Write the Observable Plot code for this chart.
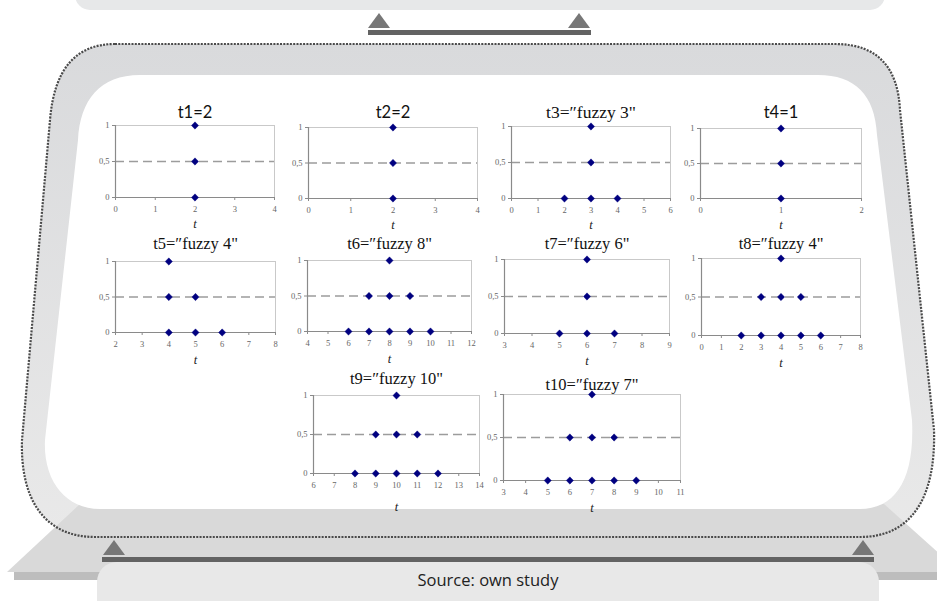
<!DOCTYPE html>
<html>
<head>
<meta charset="utf-8">
<script src="https://cdn.jsdelivr.net/npm/d3@7"></script>
<script src="https://cdn.jsdelivr.net/npm/@observablehq/plot@0.6"></script>
<style>
  html, body { margin: 0; padding: 0; background: #fff; }
  #stage { position: relative; width: 937px; height: 601px; overflow: hidden; background: #fff; }
  #decor { position: absolute; left: 0; top: 0; }
  .panel { position: absolute; }
  .panel text { font-family: "Liberation Serif", "Times New Roman", "DejaVu Serif", serif; }
  .panel text.sans, .panel g.sans text { font-family: Lato, "Open Sans", sans-serif; }
  #source { position: absolute; left: 97px; width: 782px; top: 568px; text-align: center;
            font-family: "Open Sans", sans-serif; font-size: 16.5px; color: #222; }
</style>
</head>
<body>
<div id="stage">
  <svg id="decor" width="937" height="601" viewBox="0 0 937 601">
    <defs>
      <linearGradient id="g" x1="0" y1="0" x2="0" y2="1">
        <stop offset="0" stop-color="#d9dadc"/>
        <stop offset="1" stop-color="#e9e9e9"/>
      </linearGradient>
    </defs>
    <rect x="75" y="-25" width="810" height="35" rx="15" fill="#e7e8e9"/>
    <polygon points="368,28 379,13 390,28" fill="#777"/>
    <polygon points="568,28 579,13 590,28" fill="#777"/>
    <rect x="368" y="30" width="223" height="5" fill="#636363"/>
    <path d="M 115 44 L 835 44 C 880 44, 898 70, 900 110 L 934 430 C 936 500, 910 537, 860 537 L 95 537 C 45 537, 20 500, 22 440 L 50 120 C 54 70, 75 44, 115 44 Z" fill="url(#g)"/>
    <polygon points="80,504 884,504 960,572 7,572" fill="#d9d9d9"/>
    <rect x="14" y="572" width="930" height="8" fill="#bdbdbd"/>
    <path d="M 140 75 L 818 75 C 855 75, 875 95, 877 135 L 912 420 C 915 480, 895 509, 860 509 L 100 509 C 65 509, 43 480, 45 440 L 78 140 C 80 100, 100 75, 140 75 Z" fill="#fff"/>
    <path d="M 115 44 L 835 44 C 880 44, 898 70, 900 110 L 934 430 C 936 500, 910 537, 860 537 L 95 537 C 45 537, 20 500, 22 440 L 50 120 C 54 70, 75 44, 115 44 Z" fill="none" stroke="#4a4a4a" stroke-width="2.2" stroke-dasharray="2,1.3"/>
    <polygon points="103,555 114,540 125,555" fill="#777"/>
    <polygon points="852,555 863,540 874,555" fill="#777"/>
    <rect x="102" y="557" width="772" height="5" fill="#636363"/>
    <rect x="97" y="562" width="782" height="60" rx="20" fill="#e8e8e8"/>
  </svg>
  <div id="source">Source: own study</div>
</div>
<script>
// ---- data ----
const titles = ["t1=2", "t2=2", "t3=″fuzzy 3\"", "t4=1", "t5=″fuzzy 4\"", "t6=″fuzzy 8\"",
                "t7=″fuzzy 6\"", "t8=″fuzzy 4\"", "t9=″fuzzy 10\"", "t10=″fuzzy 7\""];
const sansTitle = [true, true, false, true, false, false, false, false, false, false];
const xMin = [0, 0, 0, 0, 2, 4, 3, 0, 6, 3];
const xMax = [4, 4, 6, 2, 8, 12, 9, 8, 14, 11];
const yTicks = [0, 0.5, 1];
const levelZero = [[2], [2], [2, 3, 4], [1], [4, 5, 6], [6, 7, 8, 9, 10], [5, 6, 7], [2, 3, 4, 5, 6], [8, 9, 10, 11, 12], [5, 6, 7, 8, 9]];
const levelHalf = [[2], [2], [3], [1], [4, 5], [7, 8, 9], [6], [3, 4, 5], [9, 10, 11], [6, 7, 8]];
const levelOne  = [[2], [2], [3], [1], [4], [8], [6], [4], [10], [7]];
const cutLevel = 0.5;

// ---- layout (plot area: left, right, top, bottom, title centre y, axis-label offset, title size) ----
const frames = [
  [115, 274, 125, 197, 112, 26, 16.5],
  [308, 477, 127, 198, 112, 26, 16.5],
  [511, 670, 126, 198, 112, 26, 17.5],
  [700, 861, 128, 198, 112, 26, 16.5],
  [115, 275, 261, 332, 243, 27, 16.5],
  [307, 471, 260, 331, 243, 27, 16.5],
  [504, 669, 259, 333, 243, 27, 16.5],
  [701, 860, 258, 335, 243, 27, 16.5],
  [313, 479, 395, 473, 378, 33, 16.5],
  [503, 680, 394, 480, 384, 27, 16.5]
];

const stage = document.getElementById("stage");
const mL = 28, mR = 8, mB = 40;

titles.forEach((title, i) => {
  const [L, R, T, B, ty, tOff, tSize] = frames[i];
  const mT = T - ty + 14;
  const pts = [
    ...levelZero[i].map(t => ({t, m: 0})),
    ...levelHalf[i].map(t => ({t, m: 0.5})),
    ...levelOne[i].map(t => ({t, m: 1}))
  ];
  const plot = Plot.plot({
    width: (R - L) + mL + mR,
    height: (B - T) + mT + mB,
    marginLeft: mL, marginRight: mR, marginTop: mT, marginBottom: mB,
    x: {domain: [xMin[i], xMax[i]]},
    y: {domain: [0, 1]},
    style: {background: "transparent", fontSize: "8.5px", color: "#666", overflow: "visible"},
    marks: [
      Plot.frame({stroke: "#c9c9c9"}),
      Plot.ruleY([cutLevel], {stroke: "#9c9c9c", strokeWidth: 1.4, strokeDasharray: "9,5"}),
      Plot.axisX({ticks: d3.range(xMin[i], xMax[i] + 1), tickFormat: d => String(d), tickSize: 3, tickPadding: 5, stroke: "#8a8a8a", fill: "#666", label: null}),
      Plot.axisY({ticks: yTicks, tickFormat: d => String(d).replace(".", ","), tickSize: 3, tickPadding: 3, stroke: "#8a8a8a", fill: "#666", label: null}),
      Plot.ruleY([0], {stroke: "#8a8a8a", strokeWidth: 1.2}),
      Plot.ruleX([xMin[i]], {stroke: "#8a8a8a", strokeWidth: 1.2}),
      Plot.dot(pts, {x: "t", y: "m", symbol: "square", rotate: 45, r: 2.9, fill: "#000080", stroke: "#1a1a8a", strokeWidth: 0.4}),
      Plot.text(["t"], {text: d => d, frameAnchor: "bottom", dy: tOff, fontStyle: "italic", fontSize: 12.5, fill: "#222", lineAnchor: "middle"}),
      Plot.text([title], {text: d => d, frameAnchor: "top", dy: -(T - ty), lineAnchor: "middle",
        fontSize: tSize, fill: "#111", className: sansTitle[i] ? "sans" : "serif"})
    ]
  });
  plot.classList.add("panel");
  plot.style.left = (L - mL) + "px";
  plot.style.top = (T - mT) + "px";
  stage.appendChild(plot);
});
</script>
</body>
</html>
